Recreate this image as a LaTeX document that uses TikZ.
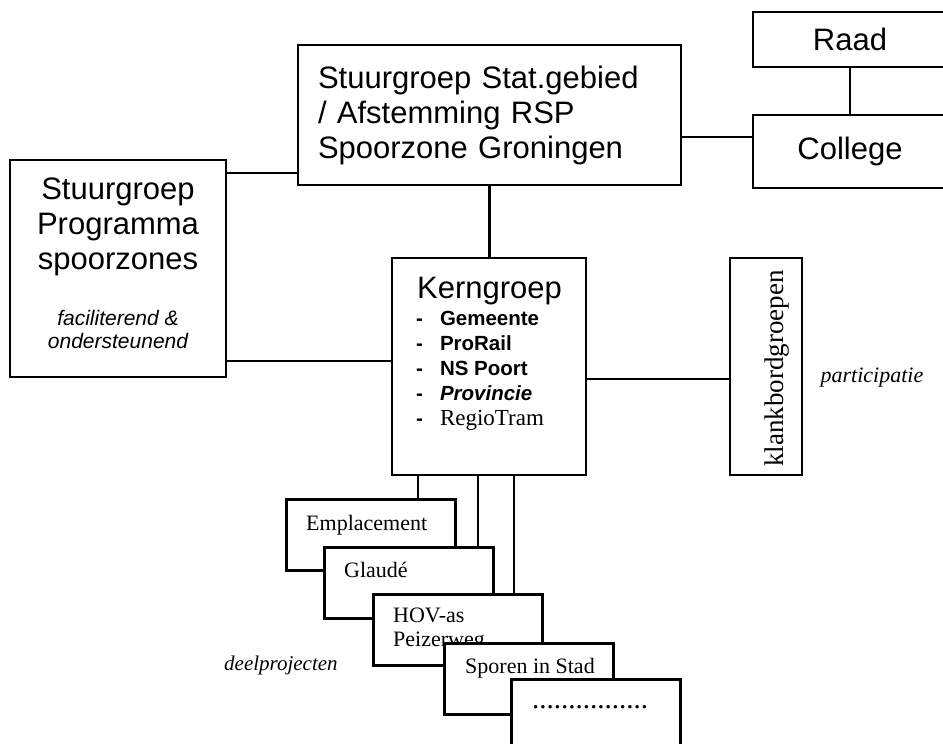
\documentclass[tikz,border=0pt]{standalone}
\usepackage{fontspec}
\setmainfont{Liberation Serif}
\setsansfont{Liberation Sans}
\usepackage{tikz}

\begin{document}
\begin{tikzpicture}[x=1pt,y=-1pt]
\tikzstyle{every node}=[inner sep=0pt]
\tikzstyle{blok}=[draw,line width=2.6pt,fill=white]
\tikzstyle{lijn}=[line width=2.2pt]
\tikzstyle{groot}=[font=\sffamily\fontsize{31}{35}\selectfont]
\tikzstyle{klein}=[font=\sffamily\bfseries\fontsize{20.5}{25}\selectfont]
\tikzstyle{schuin}=[font=\sffamily\itshape\fontsize{21}{23}\selectfont]
\tikzstyle{project}=[blok,minimum width=169pt,minimum height=71pt,anchor=north west]
\tikzstyle{deel}=[font=\rmfamily\fontsize{22}{24}\selectfont,anchor=base west]
\clip (0,0) rectangle (943,744);

\node[blok,groot,minimum width=383pt,minimum height=140pt,text width=343pt,align=left] (stat) at (489.5,115) {Stuurgroep Stat.gebied\\/ Afstemming RSP\\Spoorzone Groningen};
\node[blok,groot,minimum width=194pt,minimum height=55pt] (raad) at (850,39.5) {Raad};
\node[blok,groot,minimum width=194pt,minimum height=73pt] (college) at (850,151.5) {College};

\node[blok,minimum width=216pt,minimum height=217pt] (prog) at (118,268.5) {};
\node[groot,align=center] (progtitel) at (118,227) {Stuurgroep\\Programma\\spoorzones};
\node[schuin,align=center] (progtaak) at (118,329) {faciliterend \&\\ondersteunend};

\node[blok,minimum width=194pt,minimum height=217pt] (kern) at (489,366.5) {};
\node[groot,anchor=base west] (kerntitel) at (417,298) {Kerngroep};
\node[klein,anchor=base west] (kernleden) at (416,325) {\begin{tabular}[t]{@{}l@{\hspace{17pt}}l@{}}
-&Gemeente\\-&ProRail\\-&NS Poort\\-&{\itshape Provincie}\\-&{\rmfamily\mdseries\fontsize{23}{25}\selectfont RegioTram}
\end{tabular}};

\node[blok,minimum width=72pt,minimum height=217pt] (klank) at (766,366.5) {};
\node[rotate=90,font=\rmfamily\fontsize{27}{30}\selectfont] (klanktekst) at (777,368.5) {klankbordgroepen};
\node[font=\rmfamily\itshape\fontsize{22}{24}\selectfont,anchor=base] (participatie) at (872,382) {participatie};

\draw[lijn] ([yshift=-14pt]prog.north east) -- ([yshift=-14pt]prog.north east -| stat.west);
\draw[lijn] ([yshift=17pt]prog.south east) -- ([yshift=17pt]prog.south east -| kern.west);
\draw[lijn] (stat.south) -- (stat.south |- kern.north);
\draw[lijn] ([yshift=-22pt]stat.east) -- ([yshift=-22pt]stat.east -| college.west);
\draw[lijn] (raad.south) -- (college.north);
\draw[lijn] ([yshift=-12.5pt]kern.east) -- ([yshift=-12.5pt]kern.east -| klank.west);

\node[project] (empl) at (285,498) {};
\node[deel] (empltekst) at ([xshift=21pt,yshift=-32pt]empl.north west) {Emplacement};
\node[project] (glaude) at (323,546) {};
\node[deel] (glaudetekst) at ([xshift=21pt,yshift=-31pt]glaude.north west) {Glaudé};
\node[project] (hov) at (372,593) {};
\node[deel,anchor=north west,align=left] (hovtekst) at ([xshift=21pt,yshift=-15pt]hov.north west) {HOV-as\\Peizerweg};
\node[project] (sporen) at (443,642) {};
\node[deel] (sporentekst) at ([xshift=22pt,yshift=-31pt]sporen.north west) {Sporen in Stad};
\node[project] (overig) at (510,678) {};
\node[deel,font=\rmfamily\fontsize{29}{30}\selectfont] (overigtekst) at ([xshift=22pt,yshift=-30pt]overig.north west) {................};
\node[font=\rmfamily\itshape\fontsize{21}{24}\selectfont,anchor=base west] (deelprojecten) at (224,670) {deelprojecten};

\draw[lijn] ([xshift=27pt]kern.south west) -- ([xshift=27pt]kern.south west |- empl.north);
\draw[lijn] ([xshift=87pt]kern.south west) -- ([xshift=87pt]kern.south west |- glaude.north);
\draw[lijn] ([xshift=123pt]kern.south west) -- ([xshift=123pt]kern.south west |- hov.north);
\end{tikzpicture}
\end{document}
